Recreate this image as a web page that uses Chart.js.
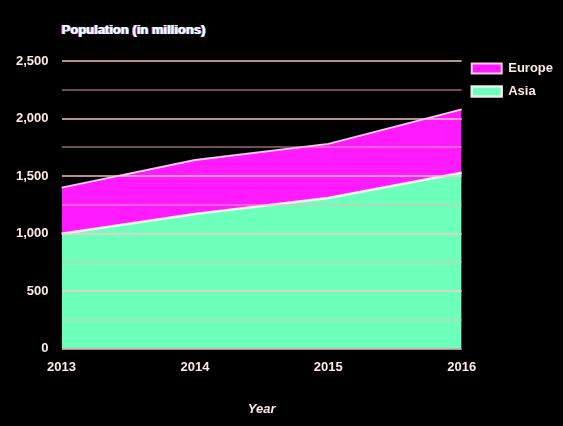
<!DOCTYPE html>
<html>
<head>
<meta charset="utf-8">
<script src="https://cdn.jsdelivr.net/npm/chart.js@4"></script>
<style>
  html, body { margin: 0; padding: 0; background: #000; }
  #wrap { width: 563px; height: 426px; }
</style>
</head>
<body>
<div id="wrap"><canvas id="c" width="563" height="426"></canvas></div>
<script>
const years = ['2013', '2014', '2015', '2016'];
const asia = [1000, 1170, 1310, 1530];
const europe = [400, 470, 470, 550];
const seriesNames = ['Asia', 'Europe'];
const chartTitle = 'Population (in millions)';
const xTitle = 'Year';

const FONT = "'Liberation Sans', Arial, sans-serif";
const TEXT = '#ffe8e8';

const titlePlugin = {
  id: 'leftTitle',
  afterDraw(chart) {
    const ctx = chart.ctx;
    const x = chart.chartArea.left;
    const y = 30;
    ctx.save();
    ctx.font = 'bold 13px ' + FONT;
    ctx.textBaseline = 'middle';
    ctx.textAlign = 'left';
    ctx.fillStyle = '#ff33ff';
    ctx.fillText(chartTitle, x - 1, y);
    ctx.fillStyle = '#66ffbb';
    ctx.fillText(chartTitle, x + 1, y);
    ctx.fillStyle = '#ffffff';
    ctx.fillText(chartTitle, x, y);
    ctx.restore();
  }
};

new Chart(document.getElementById('c'), {
  type: 'line',
  data: {
    labels: years,
    datasets: [
      {
        label: seriesNames[0],
        data: asia,
        fill: 'origin',
        backgroundColor: '#6dffbc',
        borderColor: 'rgba(240,245,240,0.95)',
        borderWidth: 2.5,
        pointRadius: 0,
        tension: 0
      },
      {
        label: seriesNames[1],
        data: europe,
        fill: '-1',
        backgroundColor: '#ff1aff',
        borderColor: 'rgba(255,225,240,0.9)',
        borderWidth: 2,
        pointRadius: 0,
        tension: 0
      }
    ]
  },
  options: {
    responsive: false,
    animation: false,
    layout: { padding: { top: 52, left: 3, right: 0, bottom: 5 } },
    plugins: {
      legend: {
        position: 'right',
        align: 'start',
        reverse: true,
        labels: {
          color: TEXT,
          font: { family: FONT, size: 13, weight: 'bold' },
          boxWidth: 30,
          boxHeight: 10,
          padding: 10
        }
      },
      title: { display: false },
      tooltip: { enabled: false }
    },
    scales: {
      x: {
        offset: false,
        grid: { display: false, drawTicks: false },
        border: { display: false },
        ticks: {
          color: TEXT,
          font: { family: FONT, size: 13, weight: 'bold' },
          padding: 11,
          maxRotation: 0
        },
        title: {
          display: true,
          text: xTitle,
          color: TEXT,
          font: { family: FONT, size: 13, weight: 'bold', style: 'italic' },
          padding: { top: 15 }
        }
      },
      y: {
        stacked: true,
        min: 0,
        max: 2500,
        border: { display: false },
        afterFit: (scale) => { scale.paddingTop = 61; },
        grid: {
          z: 1,
          drawTicks: false,
          lineWidth: 2,
          color: (c) => (c.tick && c.tick.value % 500 === 0) ? 'rgba(255,200,200,0.72)' : 'rgba(255,175,175,0.45)'
        },
        ticks: {
          stepSize: 250,
          color: TEXT,
          font: { family: FONT, size: 13, weight: 'bold' },
          padding: 13,
          callback: (v) => v % 500 === 0 ? v.toLocaleString('en-US') : ''
        }
      }
    }
  },
  plugins: [titlePlugin]
});
</script>
</body>
</html>
